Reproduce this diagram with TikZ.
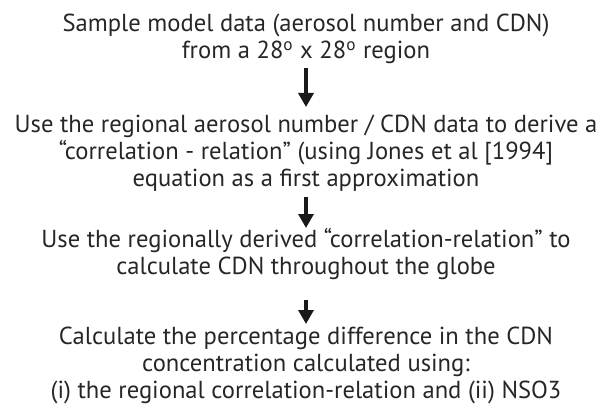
\documentclass[tikz,border=0pt]{standalone}
\usepackage{fontspec}
\setmainfont{PT Sans}
\usetikzlibrary{arrows.meta,positioning}
\tikzset{
  stage/.style={align=center, inner sep=0pt, text=black!85,
    font=\fontsize{12.3}{13.4}\selectfont},
  flow/.style={-{Triangle[width=7.5pt,length=7pt]}, line width=1.6pt, black!90}
}
\begin{document}
\begin{tikzpicture}[x=0.5pt,y=-0.5pt]
\useasboundingbox (0,0) rectangle (613,416);
% the four steps
\node[stage, anchor=north] (sample) at (306,14)
  {Sample model data (aerosol number and CDN)\\
   from a 28\textsuperscript{o} x 28\textsuperscript{o} region};
\node[stage, anchor=north] (derive) at (306,115)
  {Use the regional aerosol number / CDN data to derive a\\
   “correlation - relation” (using Jones et al [1994]\\
   equation as a first approximation};
\node[stage, anchor=north] (globe) at (306,228)
  {Use the regionally derived “correlation-relation” to\\
   calculate CDN throughout the globe};
\node[stage, anchor=north] (diff) at (306,327)
  {Calculate the percentage difference in the CDN\\
   concentration calculated using:\\
   (i) the regional correlation-relation and (ii) NSO3};
% arrows
\draw[flow, shorten <=2pt, shorten >=4pt] (sample.south) -- (derive.north);
\draw[flow, shorten <=2.5pt, shorten >=0pt] (derive.south) -- (globe.north);
\draw[flow, shorten <=10pt, shorten >=1.5pt] (globe.south) -- (diff.north);
\end{tikzpicture}
\end{document}
